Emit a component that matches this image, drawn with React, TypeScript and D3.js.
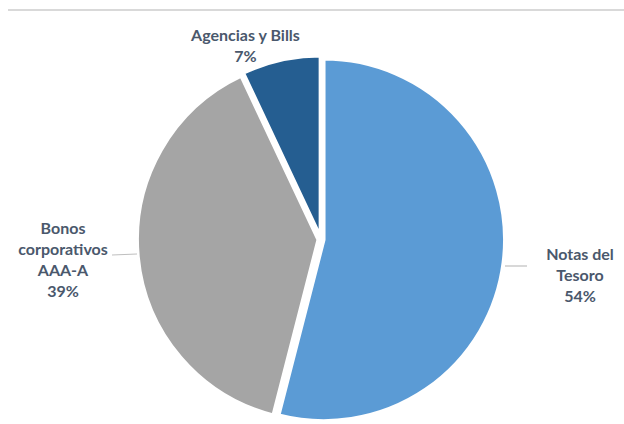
import React from "react";
import * as d3 from "d3";

const categories = ["Notas del Tesoro", "Bonos corporativos AAA-A", "Agencias y Bills"];
const values = [54, 39, 7];
const labelLines = [["Notas del", "Tesoro"], ["Bonos", "corporativos", "AAA-A"], ["Agencias y Bills"]];
const colors = ["#5B9BD5", "#A5A5A5", "#255E91"];

const W = 624;
const H = 424;
const cx = 321;
const cy = 239.5;
const R = 181;
const explode = 2.8;

// label layout: anchor center x, first baseline y, leader line
const labelLayout = [
  { x: 580, y: 260, leader: [[505, 266], [527, 266]] },
  { x: 63, y: 234, leader: [[112, 255], [137, 254]] },
  { x: 245.5, y: 41, leader: null },
];

export default function App() {
  const pie = d3
    .pie<number>()
    .sort(null)
    .value((d) => d)
    .startAngle(0)
    .endAngle(2 * Math.PI);
  const arcs = pie(values);
  const arc = d3.arc<d3.PieArcDatum<number>>().innerRadius(0).outerRadius(R);

  return (
    <svg
      width={W}
      height={H}
      style={{ position: "absolute", left: 0, top: 0, background: "#fff" }}
    >
      <line x1={8} x2={624} y1={10} y2={10} stroke="#D9D9D9" strokeWidth={2} />
      <g transform={`translate(${cx},${cy})`}>
        {arcs.map((a, i) => {
          const mid = (a.startAngle + a.endAngle) / 2;
          const dx = Math.sin(mid) * explode;
          const dy = -Math.cos(mid) * explode;
          return (
            <path
              key={i}
              d={arc(a) || ""}
              transform={`translate(${dx},${dy})`}
              fill={colors[i]}
              stroke="#fff"
              strokeWidth={3.5}
              strokeLinejoin="miter"
            />
          );
        })}
      </g>
      {labelLayout.map((l, i) =>
        l.leader ? (
          <line
            key={"l" + i}
            x1={l.leader[0][0]}
            y1={l.leader[0][1]}
            x2={l.leader[1][0]}
            y2={l.leader[1][1]}
            stroke="#BFBFBF"
            strokeWidth={1.2}
          />
        ) : null
      )}
      {labelLayout.map((l, i) => {
        const lines = [...labelLines[i], `${values[i]}%`];
        return (
          <text
            key={"t" + i}
            textAnchor="middle"
            fontFamily="Lato, 'Open Sans', sans-serif"
            fontWeight={700}
            fontSize={16}
            fill="#4A586C"
          >
            {lines.map((s, j) => (
              <tspan key={j} x={l.x} y={l.y + j * 21}>
                {s}
              </tspan>
            ))}
          </text>
        );
      })}
    </svg>
  );
}
